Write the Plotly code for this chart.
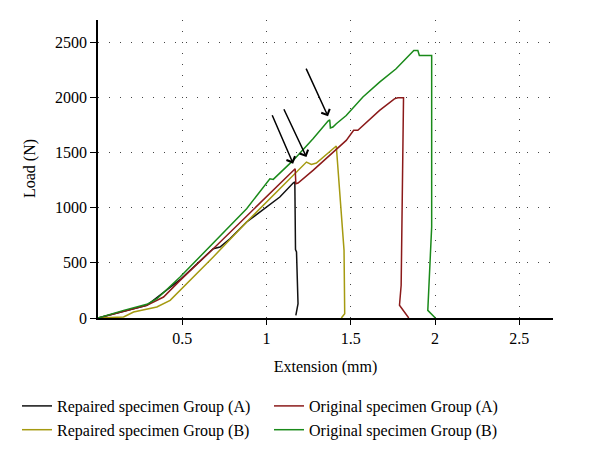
import plotly.graph_objects as go

# Repaired specimen Group (A) - black
rep_a_x = [0, 0.152, 0.29, 0.487, 0.684, 0.724, 0.783, 0.882, 1.0, 1.079, 1.158, 1.168, 1.172, 1.178, 1.187, 1.174]
rep_a_y = [0, 63, 115, 347, 628, 643, 718, 870, 1005, 1096, 1223, 1232, 620, 598, 130, 24]

# Repaired specimen Group (B) - olive
rep_b_x = [0, 0.152, 0.211, 0.349, 0.428, 0.487, 0.684, 0.882, 1.0, 1.079, 1.178, 1.237, 1.266, 1.296, 1.414, 1.46, 1.464, 1.444]
rep_b_y = [0, 9, 54, 100, 160, 250, 553, 870, 1051, 1171, 1331, 1413, 1392, 1404, 1558, 613, 39, 0]

# Original specimen Group (A) - dark red
orig_a_x = [0, 0.152, 0.29, 0.389, 0.487, 0.684, 0.882, 0.98, 1.079, 1.17, 1.174, 1.187, 1.276, 1.375, 1.473, 1.517, 1.542, 1.671, 1.759, 1.779, 1.813, 1.799, 1.789, 1.844]
orig_a_y = [0, 63, 115, 190, 341, 628, 921, 1066, 1217, 1353, 1217, 1223, 1337, 1473, 1609, 1700, 1700, 1881, 1986, 1996, 1996, 296, 115, 0]

# Original specimen Group (B) - green
orig_b_x = [0, 0.152, 0.29, 0.35, 0.487, 0.684, 0.882, 1.02, 1.04, 1.158, 1.276, 1.365, 1.375, 1.379, 1.394, 1.414, 1.473, 1.572, 1.671, 1.769, 1.874, 1.898, 1.907, 1.98, 1.98, 1.957, 2.002]
orig_b_y = [0, 69, 124, 175, 371, 682, 990, 1262, 1256, 1428, 1624, 1784, 1796, 1721, 1730, 1760, 1835, 2002, 2137, 2258, 2424, 2424, 2379, 2379, 824, 69, 0]

# Arrows: (tail x, tail y, head x, head y)
arrow_tail_x = [1.03, 1.099, 1.231]
arrow_tail_y = [1851, 1905, 2273]
arrow_head_x = [1.158, 1.237, 1.365]
arrow_head_y = [1398, 1458, 1827]

x_ticks = [0.5, 1, 1.5, 2, 2.5]
x_tick_labels = ["0.5", "1", "1.5", "2", "2.5"]
y_ticks = [0, 500, 1000, 1500, 2000, 2500]

FONT = "Liberation Serif, Times New Roman, serif"
W, H = 592, 454
ML, MR, MT, MB = 90, 47, 12, 144

fig = go.Figure()
series = [
    ("Repaired specimen Group (A)", rep_a_x, rep_a_y, "#111111", "legend"),
    ("Repaired specimen Group (B)", rep_b_x, rep_b_y, "#a59a10", "legend"),
    ("Original specimen Group (A)", orig_a_x, orig_a_y, "#8b1a1a", "legend2"),
    ("Original specimen Group (B)", orig_b_x, orig_b_y, "#1a8a1a", "legend2"),
]
for name, xs, ys, col, lg in series:
    fig.add_trace(go.Scatter(x=xs, y=ys, mode="lines", name=name, legend=lg,
                             line=dict(color=col, width=1.5)))

for tx, ty, hx, hy in zip(arrow_tail_x, arrow_tail_y, arrow_head_x, arrow_head_y):
    fig.add_annotation(x=hx, y=hy, ax=tx, ay=ty, xref="x", yref="y",
                       axref="x", ayref="y", showarrow=True, arrowhead=4,
                       arrowsize=1.2, arrowwidth=1.5, arrowcolor="black", text="")

# y-axis title
fig.add_annotation(text="Load (N)", textangle=-90, showarrow=False,
                   xref="paper", yref="paper", x=(22 - ML) / (W - ML - MR), y=0.5,
                   xanchor="center", yanchor="middle",
                   font=dict(family=FONT, size=16, color="black"))

legend_common = dict(orientation="v", yanchor="top", xanchor="left",
                     xref="container", yref="container",
                     font=dict(family=FONT, size=16, color="black"),
                     tracegroupgap=0, bgcolor="rgba(0,0,0,0)", itemwidth=30)

fig.update_layout(
    width=W, height=H,
    margin=dict(l=ML, r=MR, t=MT, b=MB, autoexpand=False),
    paper_bgcolor="white", plot_bgcolor="white",
    font=dict(family=FONT, size=16, color="black"),
    showlegend=True,
    legend=dict(x=9 / W, y=(H - 381) / H, **legend_common),
    legend2=dict(x=261 / W, y=(H - 381) / H, **legend_common),
    xaxis=dict(range=[0, 2.7], tickvals=x_ticks, ticktext=x_tick_labels,
               showline=True, linecolor="black", linewidth=1.5,
               ticks="outside", ticklen=5, tickcolor="black",
               showgrid=True, gridcolor="#444444", griddash="1px,10px", gridwidth=1,
               zeroline=False,
               title=dict(text="Extension (mm)", font=dict(family=FONT, size=16), standoff=15)),
    yaxis=dict(range=[0, 2700], tickvals=y_ticks,
               showline=True, linecolor="black", linewidth=1.5,
               ticks="outside", ticklen=6, tickcolor="black",
               showgrid=True, gridcolor="#444444", griddash="1px,10px", gridwidth=1,
               zeroline=False),
)

fig.write_html("out.html")
